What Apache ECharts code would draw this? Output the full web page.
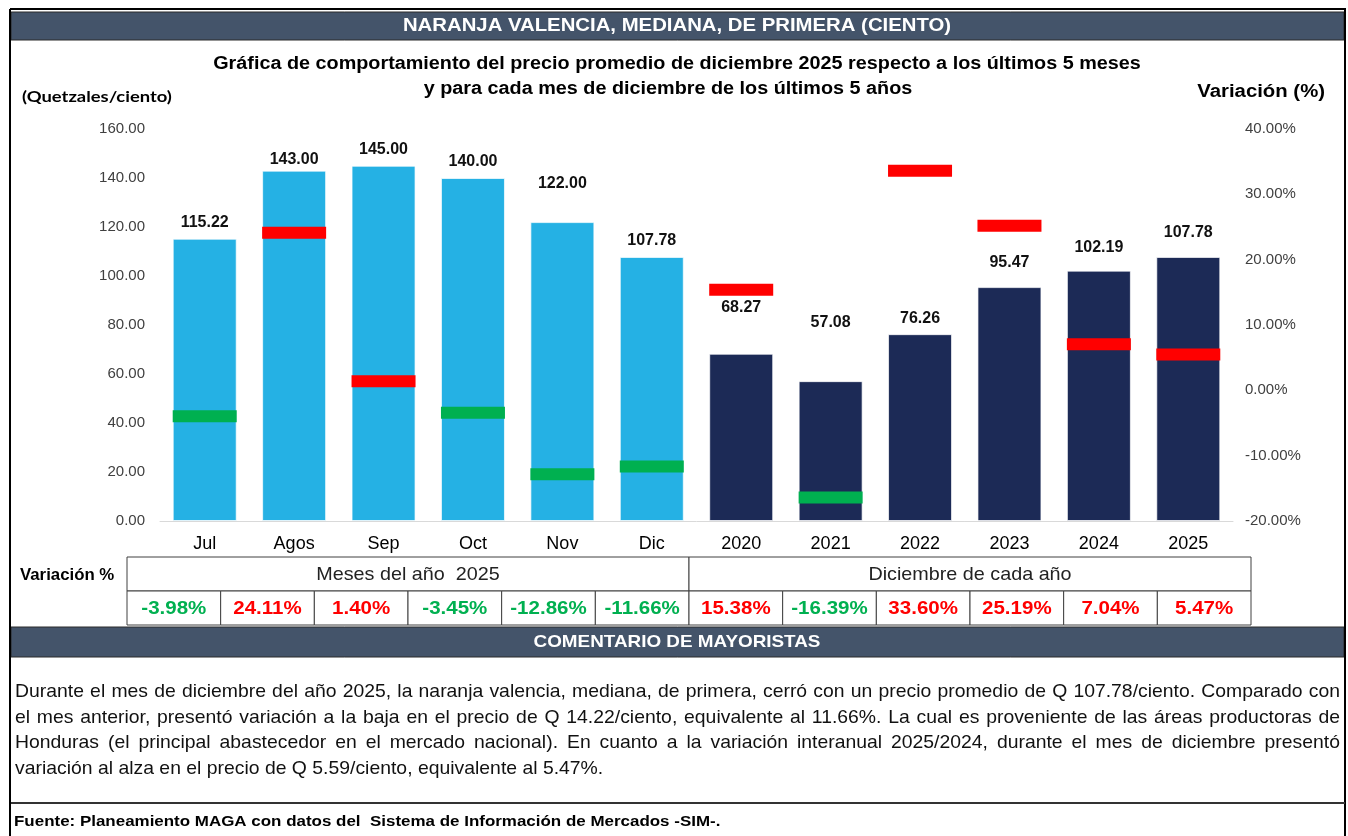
<!DOCTYPE html>
<html>
<head>
<meta charset="utf-8">
<script src="https://cdn.jsdelivr.net/npm/echarts@6/dist/echarts.min.js"></script>
<style>
  html, body { margin: 0; padding: 0; background: #fff; }
  #chart { width: 1348px; height: 836px; }
</style>
</head>
<body>
<div id="chart"></div>
<script>
// values
var categories = ['Jul', 'Agos', 'Sep', 'Oct', 'Nov', 'Dic', '2020', '2021', '2022', '2023', '2024', '2025'];
var prices = [115.22, 143.00, 145.00, 140.00, 122.00, 107.78, 68.27, 57.08, 76.26, 95.47, 102.19, 107.78];
var variation = [-3.98, 24.11, 1.40, -3.45, -12.86, -11.66, 15.38, -16.39, 33.60, 25.19, 7.04, 5.47];
var monthCount = 6;

var priceTicks = { min: 0, max: 160, interval: 20 };
var varTicks = { min: -20, max: 40, interval: 10 };

var paragraph = [
    'Durante el mes de diciembre del año 2025, la naranja valencia, mediana, de primera, cerró con un precio promedio de Q 107.78/ciento. Comparado con',
    'el mes anterior, presentó variación a la baja en el precio de Q 14.22/ciento, equivalente al 11.66%. La cual es proveniente de las áreas productoras de',
    'Honduras (el principal abastecedor en el mercado nacional). En cuanto a la variación interanual 2025/2024, durante el mes de diciembre presentó',
    'variación al alza en el precio de Q 5.59/ciento, equivalente al 5.47%.'
];

var FONT = '"Liberation Sans", Arial, sans-serif';
var LIGHT = '#25B1E4';
var DARK = '#1C2A56';
var RED = '#FF0000';
var GREEN = '#00B050';
var BAND = '#44546A';

// extra lift for the labels that were moved by hand in the original
var labelLift = [0, -5, 0, 0, 23, 0, 30, 43, 0, 9, 7, 8];

var barData = prices.map(function (v, i) {
    return {
        value: v,
        itemStyle: { color: i < monthCount ? LIGHT : DARK },
        label: { offset: [0, -labelLift[i]] }
    };
});

var markData = variation.map(function (v) {
    return { value: v, itemStyle: { color: v < 0 ? GREEN : RED, opacity: 1 } };
});

var graphics = [];

// the original picture is a little wider than tall, so texts get a small horizontal stretch
function text(x, y, str, style, sx) {
    graphics.push({
        type: 'text', x: x, y: y, z: 10, scaleX: sx || 1,
        style: Object.assign({ text: str, fontFamily: FONT, fill: '#000', verticalAlign: 'middle' }, style)
    });
}
function rect(x, y, w, h, fill, stroke, lw) {
    graphics.push({
        type: 'rect', z: 5,
        shape: { x: x, y: y, width: w, height: h },
        style: { fill: fill || 'none', stroke: stroke || 'none', lineWidth: lw || 1 }
    });
}
function line(x1, y1, x2, y2, color, lw) {
    graphics.push({
        type: 'line', z: 6,
        shape: { x1: x1, y1: y1, x2: x2, y2: y2 },
        style: { stroke: color, lineWidth: lw }
    });
}

// frame and bands
rect(11, 12, 1333, 28, BAND, '#2b2b2b', 1);
rect(11, 627, 1333, 30, BAND, '#2b2b2b', 1);
line(10, 9, 1346, 9, '#000', 2);
line(10, 9, 10, 836, '#000', 2);
line(1345, 9, 1345, 836, '#000', 2);
line(11, 803, 1345, 803, '#333', 2);

text(677, 26, 'NARANJA VALENCIA, MEDIANA, DE PRIMERA (CIENTO)', { fill: '#fff', fontWeight: 'bold', fontSize: 19, align: 'center' }, 1.07);
text(677, 642, 'COMENTARIO DE MAYORISTAS', { fill: '#fff', fontWeight: 'bold', fontSize: 17, align: 'center' }, 1.11);

text(677, 64, 'Gráfica de comportamiento del precio promedio de diciembre 2025 respecto a los últimos 5 meses', { fontWeight: 'bold', fontSize: 18, align: 'center' }, 1.10);
text(668, 89, 'y para cada mes de diciembre de los últimos 5 años', { fontWeight: 'bold', fontSize: 18, align: 'center' }, 1.10);
text(22, 97, '(Quetzales/ciento)', { fontWeight: 'bold', fontSize: 16, fontFamily: 'Lato, "Open Sans", sans-serif' }, 1.15);
text(1325, 92, 'Variación (%)', { fontWeight: 'bold', fontSize: 18, align: 'right' }, 1.13);

// variation table
var tLeft = 127, tRight = 1251, rowA = 557, rowB = 591, rowH = 34;
var cellW = (tRight - tLeft) / categories.length;
var split = tLeft + cellW * monthCount;
text(20, 576, 'Variación %', { fontWeight: 'bold', fontSize: 16 }, 1.05);
rect(tLeft, rowA, split - tLeft, rowH, '#fff', '#404040', 1);
rect(split, rowA, tRight - split, rowH, '#fff', '#404040', 1);
text((tLeft + split) / 2, rowA + rowH / 2 + 1, 'Meses del año  2025', { fontSize: 19, align: 'center', fill: '#222' }, 1.04);
text((split + tRight) / 2, rowA + rowH / 2 + 1, 'Diciembre de cada año', { fontSize: 19, align: 'center', fill: '#222' }, 1.04);
variation.forEach(function (v, i) {
    var x = tLeft + cellW * i;
    rect(x, rowB, cellW, rowH, '#fff', '#404040', 1);
    text(x + cellW / 2, rowB + rowH / 2 + 1, v.toFixed(2) + '%', {
        fontSize: 19, fontWeight: 'bold', align: 'center', fill: v < 0 ? GREEN : RED
    }, 1.08);
});

// justified comment paragraph
var pFont = 19, pSX = 1.02, pLeft = 15, pRight = 1340, pTop = 692, pStep = 25.5;
var ctx = document.createElement('canvas').getContext('2d');
ctx.font = pFont + 'px ' + FONT;
paragraph.forEach(function (ln, li) {
    var y = pTop + li * pStep;
    if (li === paragraph.length - 1) {
        text(pLeft, y, ln, { fontSize: pFont, fill: '#111' }, pSX);
        return;
    }
    var words = ln.split(' ');
    var widths = words.map(function (w) { return ctx.measureText(w).width * pSX; });
    var total = widths.reduce(function (a, b) { return a + b; }, 0);
    var gap = Math.max(3, (pRight - pLeft - total) / (words.length - 1));
    var x = pLeft;
    words.forEach(function (w, k) {
        text(x, y, w, { fontSize: pFont, fill: '#111' }, pSX);
        x += widths[k] + gap;
    });
});

text(14, 822, 'Fuente: Planeamiento MAGA con datos del  Sistema de Información de Mercados -SIM-.', { fontWeight: 'bold', fontSize: 15 }, 1.13);

var option = {
    backgroundColor: '#fff',
    animation: false,
    textStyle: { fontFamily: FONT },
    grid: { left: 160, right: 115, top: 129, bottom: 315 },
    xAxis: {
        type: 'category',
        data: categories,
        axisTick: { show: false },
        axisLine: { lineStyle: { color: '#D9D9D9', width: 1 } },
        axisLabel: { fontSize: 18, color: '#000', margin: 14 }
    },
    yAxis: [
        {
            type: 'value',
            min: priceTicks.min, max: priceTicks.max, interval: priceTicks.interval,
            splitLine: { show: false },
            axisLabel: {
                fontSize: 15, color: '#404040', margin: 15,
                formatter: function (v) { return v.toFixed(2); }
            }
        },
        {
            type: 'value',
            min: varTicks.min, max: varTicks.max, interval: varTicks.interval,
            splitLine: { show: false },
            axisLabel: {
                fontSize: 15, color: '#404040', margin: 12,
                formatter: function (v) { return v.toFixed(2) + '%'; }
            }
        }
    ],
    series: [
        {
            name: 'Precio',
            type: 'bar',
            barWidth: 64,
            data: barData,
            itemStyle: { borderColor: 'rgba(255,255,255,0.7)', borderWidth: 1 },
            label: {
                show: true, position: 'top', distance: 8,
                fontSize: 16, fontWeight: 'bold', color: '#111',
                formatter: function (p) { return p.value.toFixed(2); }
            }
        },
        {
            name: 'Variación',
            type: 'scatter',
            yAxisIndex: 1,
            symbol: 'rect',
            symbolSize: [64, 12],
            z: 5,
            itemStyle: { opacity: 1 },
            data: markData
        }
    ],
    graphic: graphics
};

var myChart = echarts.init(document.getElementById('chart'));
myChart.setOption(option);
</script>
</body>
</html>
